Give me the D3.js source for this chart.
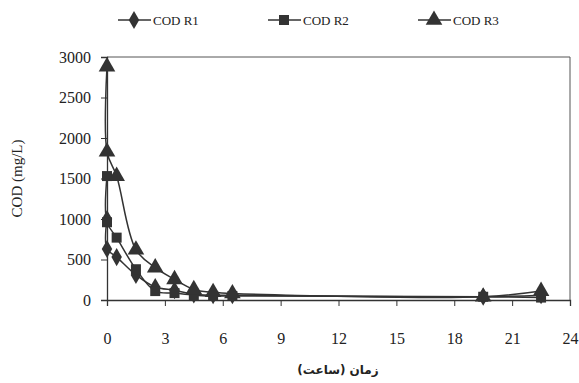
<!DOCTYPE html>
<html><head><meta charset="utf-8">
<script src="https://cdn.jsdelivr.net/npm/d3@7"></script>
<style>body{margin:0;background:#fff}svg{display:block}</style>
</head><body>
<script>
const times = [0, 0, 0.5, 1.5, 2.5, 3.5, 4.5, 5.5, 6.5, 19.5, 22.5];
const codR1 = [1000, 630, 530, 310, 160, 120, 70, 60, 60, 40, 60];
const codR2 = [1530, 960, 770, 380, 110, 85, 60, 50, 50, 40, 30];
const codR3 = [2880, 1830, 1530, 620, 400, 255, 130, 95, 80, 40, 110];
const seriesNames = ["COD R1", "COD R2", "COD R3"];
const xTicks = [0, 3, 6, 9, 12, 15, 18, 21, 24];
const yTicks = [0, 500, 1000, 1500, 2000, 2500, 3000];
const xLabel = "زمان (ساعت)";
const yLabel = "COD (mg/L)";

const W = 579, H = 383;
const svg = d3.select("body").append("svg").attr("width", W).attr("height", H);
const m = {l: 107, r: 570, t: 57, b: 300};
const x = d3.scaleLinear().domain([0, 24]).range([m.l, m.r]);
const y = d3.scaleLinear().domain([0, 3000]).range([m.b, m.t]);
const col = "#333";
const font = "'Liberation Serif', 'DejaVu Serif', serif";

svg.append("path").attr("d", `M${m.l},${m.t}H${m.r}V${m.b}`).attr("fill", "none").attr("stroke", "#555").attr("stroke-width", 1);

const xa = svg.append("g").attr("transform", `translate(0,${m.b})`)
  .call(d3.axisBottom(x).tickValues(xTicks).tickSize(6).tickPadding(27).tickFormat(d3.format("d")));
const ya = svg.append("g").attr("transform", `translate(${m.l},0)`)
  .call(d3.axisLeft(y).tickValues(yTicks).tickSize(6).tickPadding(10).tickFormat(d3.format("d")));
[xa, ya].forEach(a => {
  a.select(".domain").attr("stroke", "#333").attr("stroke-width", 1.3);
  a.selectAll(".tick line").attr("stroke", "#333");
  a.selectAll("text").attr("font-family", font).attr("font-size", 16).attr("fill", "#222");
});

const symTypes = [d3.symbolDiamond, d3.symbolSquare, d3.symbolTriangle];
const symSizes = [95, 100, 120];
const data = [codR1, codR2, codR3];
const line = d3.line().x(d => x(d[0])).y(d => y(d[1])).curve(d3.curveCatmullRom.alpha(0.5));

data.forEach((vals, i) => {
  const pts = times.map((t, j) => [t, vals[j]]);
  svg.append("path").attr("d", line(pts)).attr("fill", "none").attr("stroke", col).attr("stroke-width", 1.5);
  svg.append("g").selectAll("path").data(pts).join("path")
    .attr("transform", d => `translate(${x(d[0])},${y(d[1])})`)
    .attr("d", d3.symbol().type(symTypes[i]).size(symSizes[i]))
    .attr("fill", col);
});

const lx = [118, 268, 418];
seriesNames.forEach((n, i) => {
  const g = svg.append("g").attr("transform", `translate(${lx[i]},20)`);
  g.append("line").attr("x1", 0).attr("x2", 33).attr("stroke", col).attr("stroke-width", 1.5);
  g.append("path").attr("transform", "translate(16,0)").attr("d", d3.symbol().type(symTypes[i]).size(symSizes[i])).attr("fill", col);
  g.append("text").attr("x", 35).attr("y", 4.5).text(n).attr("font-family", font).attr("font-size", 13).attr("fill", "#222");
});

svg.append("text").attr("x", 338).attr("y", 374).attr("text-anchor", "middle")
  .attr("font-family", "'DejaVu Sans', 'Noto Sans', sans-serif").attr("font-weight", "bold").attr("font-size", 12)
  .attr("direction", "rtl").attr("fill", "#222").text(xLabel);
svg.append("text").attr("transform", `translate(22,${(m.t + m.b) / 2}) rotate(-90)`).attr("text-anchor", "middle")
  .attr("font-family", font).attr("font-size", 15).attr("fill", "#222").text(yLabel);
</script>
</body></html>
